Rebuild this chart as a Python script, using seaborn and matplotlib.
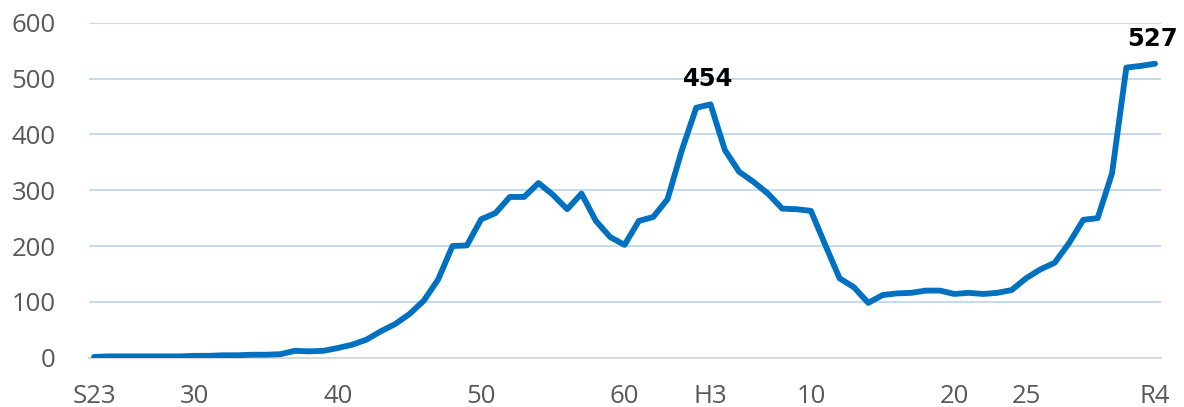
import matplotlib
matplotlib.use("Agg")
import matplotlib.pyplot as plt
import seaborn as sns
import pandas as pd

sns.set_theme(style="white")
plt.rcParams['font.family'] = ['Open Sans', 'DejaVu Sans']

# one value per year, S23 (1948) .. R4 (2022)
years = list(range(1948, 2023))
values = [1, 2, 2, 2, 2, 2, 2, 3, 3, 4,
          4, 5, 5, 6, 12, 11, 12, 17, 23, 32,
          47, 60, 78, 102, 140, 200, 201, 248, 259, 288,
          288, 313, 292, 266, 294, 245, 216, 202, 245, 252,
          284, 372, 448, 454, 372, 333, 315, 294, 267, 266,
          263, 202, 142, 126, 98, 112, 115, 116, 120, 120,
          114, 116, 114, 116, 121, 142, 158, 170, 205, 247,
          250, 330, 520, 523, 527]

tick_years = [1948, 1955, 1965, 1975, 1985, 1991, 1998, 2008, 2013, 2022]
tick_labels = ['S23', '30', '40', '50', '60', 'H3', '10', '20', '25', 'R4']
label_years = [1991, 2022]

df = pd.DataFrame({'year': years, 'value': values})

fig = plt.figure(figsize=(11.84, 4.07), dpi=100)
ax = fig.add_axes([0.0752, 0.1216, 0.9054, 0.8219])

sns.lineplot(data=df, x='year', y='value', ax=ax, color='#0070C0',
             linewidth=4.2, zorder=3)

ax.set_ylim(0, 600)
ax.set_xlim(1947.65, 2022.42)
ax.set_yticks(range(0, 601, 100))
ax.set_xticks(tick_years)
ax.set_xticklabels(tick_labels)
ax.set_xlabel('')
ax.set_ylabel('')

ax.yaxis.grid(True, color='#BDD7EE', linewidth=1.3)
ax.xaxis.grid(False)
for side in ['top', 'right', 'left']:
    ax.spines[side].set_visible(False)
ax.spines['bottom'].set_color('#D9D9D9')
ax.spines['bottom'].set_linewidth(1.5)
ax.spines['bottom'].set_zorder(2)

ax.tick_params(axis='both', length=0, labelsize=18.5, colors='#595959')
ax.tick_params(axis='x', pad=19)
ax.tick_params(axis='y', pad=24)

for yr in label_years:
    v = values[years.index(yr)]
    ax.annotate(str(v), xy=(yr, v), xytext=(-2, 18), textcoords='offset points',
                ha='center', va='center', fontsize=17.5, fontweight='bold',
                family='DejaVu Sans', color='black')

fig.savefig('out.png', dpi=100)
